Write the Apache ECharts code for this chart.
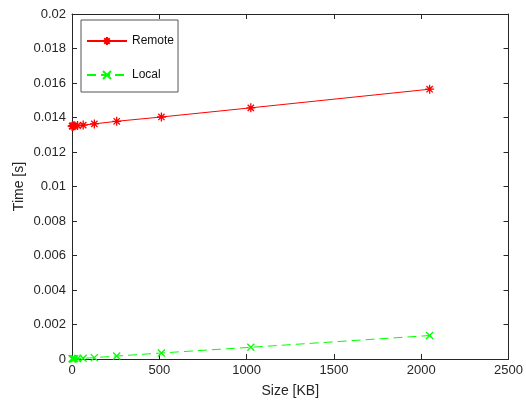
<!DOCTYPE html>
<html><head><meta charset="utf-8">
<script src="https://cdn.jsdelivr.net/npm/echarts@6/dist/echarts.min.js"></script>
<style>html,body{margin:0;padding:0;background:#fff}#c{width:526px;height:403px}</style>
</head><body><div id="c"></div>
<script>
const sizes = [1, 2, 4, 8, 16, 32, 64, 128, 256, 512, 1024, 2048];
const remote = [0.01350, 0.01350, 0.01351, 0.01351, 0.01352, 0.01353, 0.01356, 0.01363, 0.01378, 0.01403, 0.01456, 0.01564];
const local = [0.00001, 0.00001, 0.00001, 0.00001, 0.00002, 0.00003, 0.00004, 0.00008, 0.00017, 0.00035, 0.00068, 0.00136];
const xTicks = {min: 0, max: 2500, interval: 500};
const yTicks = {min: 0, max: 0.02, interval: 0.002};

const star = 'path://M5,0L5,10M0,5L10,5M1.5,1.5L8.5,8.5M8.5,1.5L1.5,8.5';
const cross = 'path://M0,0L10,10M10,0L0,10';
const axisCol = '#262626';
const font = 'Liberation Sans, Arial, sans-serif';
const chart = echarts.init(document.getElementById('c'));
function base() {
  return {
    axisLine: {show: true, onZero: false, lineStyle: {color: axisCol, width: 1}},
    axisTick: {show: true, inside: true, length: 5, lineStyle: {color: axisCol, width: 1}},
    splitLine: {show: false},
  };
}
chart.setOption({
  animation: false,
  grid: {left: 72, right: 17, top: 14, bottom: 43},
  legend: {
    orient: 'vertical', left: 81, top: 20, padding: [15, 4, 11, 5], itemGap: 22,
    itemWidth: 40, itemHeight: 10,
    borderColor: '#555', borderWidth: 1, backgroundColor: '#fff',
    textStyle: {fontFamily: font, fontSize: 12, color: '#111'},
    data: ['Remote', 'Local']
  },
  xAxis: [
    Object.assign(base(), {type: 'value', min: xTicks.min, max: xTicks.max, interval: xTicks.interval,
      name: 'Size [KB]', nameLocation: 'middle', nameGap: 25, nameMoveOverlap: false,
      nameTextStyle: {fontFamily: font, fontSize: 14, color: axisCol},
      axisLabel: {fontFamily: font, fontSize: 13, color: axisCol, margin: 5, formatter: v => String(v)}}),
    Object.assign(base(), {type: 'value', position: 'top', min: xTicks.min, max: xTicks.max, interval: xTicks.interval,
      axisLabel: {show: false}})
  ],
  yAxis: [
    Object.assign(base(), {type: 'value', position: 'left', min: yTicks.min, max: yTicks.max, interval: yTicks.interval,
      name: 'Time [s]', nameLocation: 'middle', nameGap: 46, nameMoveOverlap: false,
      nameTextStyle: {fontFamily: font, fontSize: 14, color: axisCol},
      axisLabel: {fontFamily: font, fontSize: 13, color: axisCol, margin: 6,
        formatter: v => String(parseFloat(v.toFixed(4)))}}),
    Object.assign(base(), {type: 'value', position: 'right', min: yTicks.min, max: yTicks.max, interval: yTicks.interval,
      axisLabel: {show: false}})
  ],
  series: [
    {name: 'Remote', type: 'line', data: sizes.map((s, i) => [s, remote[i]]),
      symbol: star, symbolSize: 9, showAllSymbol: true,
      lineStyle: {color: '#ff0000', width: 1},
      itemStyle: {color: '#ff0000', borderColor: '#ff0000', borderWidth: 1.3}},
    {name: 'Local', type: 'line', data: sizes.map((s, i) => [s, local[i]]),
      symbol: cross, symbolSize: 7, showAllSymbol: true,
      lineStyle: {color: '#00ff00', width: 1, type: [9, 5]},
      itemStyle: {color: '#00ff00', borderColor: '#00ff00', borderWidth: 1.3}}
  ]
});
</script></body></html>
